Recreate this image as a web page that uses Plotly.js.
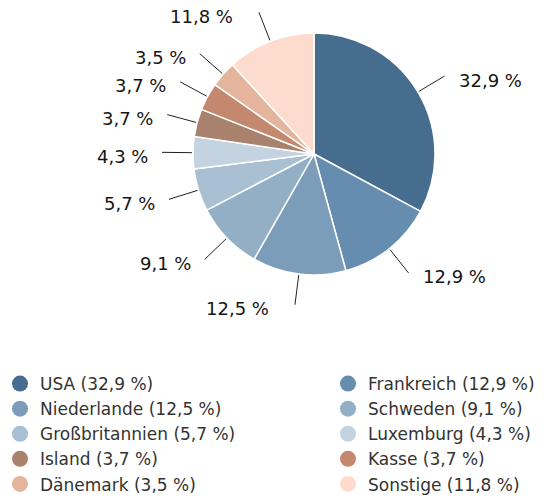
<!DOCTYPE html>
<html><head><meta charset="utf-8">
<script src="https://cdn.plot.ly/plotly-3.0.1.min.js"></script>
<style>html,body{margin:0;padding:0;background:#fff}</style>
</head><body><div id="chart" style="width:544px;height:502px"></div>
<script>
const labels = ['USA','Frankreich','Niederlande','Schweden','Großbritannien','Luxemburg','Island','Kasse','Dänemark','Sonstige'];
const values = [32.9,12.9,12.5,9.1,5.7,4.3,3.7,3.7,3.5,11.8];
const colors = ['#466d8e','#668daf','#7b9dba','#93afc6','#a9bfd2','#c3d3e0','#a8826c','#c3886d','#e4b49c','#fddccd'];

const W = 544, H = 502;
const CX = 314, CY = 154, R = 121;   // pie geometry in px
const FONT = 'DejaVu Sans, sans-serif';
const fmt = v => v.toFixed(1).replace('.', ',') + ' %';

const total = values.reduce((a, b) => a + b, 0);
const shapes = [], annotations = [];
let cum = 0;
values.forEach((v, i) => {
  const mid = (cum + v / 2) / total; cum += v;
  const th = 2 * Math.PI * mid;
  const s = Math.sin(th), c = Math.cos(th);
  const x0 = CX + (R + 1) * s, y0 = CY - (R + 1) * c;
  const x1 = CX + 152 * s, y1 = CY - 152 * c;
  shapes.push({type: 'line', xref: 'paper', yref: 'paper',
    x0: x0 / W, y0: 1 - y0 / H, x1: x1 / W, y1: 1 - y1 / H,
    line: {color: '#222', width: 1}});
  const gap = 12 + (Math.abs(c) > 0.9 ? 12 : 0);
  const tx = s >= 0 ? x1 + gap : x1 - gap;
  annotations.push({xref: 'paper', yref: 'paper', x: tx / W, y: 1 - (y1 + 4) / H,
    xanchor: s >= 0 ? 'left' : 'right', yanchor: 'middle', showarrow: false,
    text: fmt(v), font: {family: FONT, size: 18, color: '#151515'}});
});

const pie = {
  type: 'pie', labels: labels, values: values, sort: false, direction: 'clockwise',
  rotation: 0, textinfo: 'none', hoverinfo: 'label+percent', showlegend: false,
  marker: {colors: colors, line: {color: '#ffffff', width: 1.5}},
  domain: {x: [(CX - R) / W, (CX + R) / W], y: [1 - (CY + R) / H, 1 - (CY - R) / H]}
};
// legend split into two columns: even slice indices left, odd right
const legendTraces = labels.map((l, i) => ({
  type: 'scatter', mode: 'markers', x: [null], y: [null],
  name: l + ' (' + fmt(values[i]) + ')', legend: i % 2 === 0 ? 'legend' : 'legend2',
  marker: {color: colors[i], size: 17, symbol: 'circle'}, hoverinfo: 'skip'
}));

const legendBase = {orientation: 'v', y: 0, yanchor: 'bottom', xanchor: 'left',
  itemwidth: 30, traceorder: 'normal', bgcolor: 'rgba(0,0,0,0)',
  font: {family: FONT, size: 17, color: '#333'}};

const layout = {
  width: W, height: H, margin: {l: 0, r: 0, t: 0, b: 0},
  paper_bgcolor: '#fff', plot_bgcolor: '#fff',
  xaxis: {visible: false}, yaxis: {visible: false},
  showlegend: true,
  legend: Object.assign({}, legendBase, {x: 0}),
  legend2: Object.assign({}, legendBase, {x: 328 / W}),
  shapes: shapes, annotations: annotations
};
Plotly.newPlot('chart', [pie].concat(legendTraces), layout, {displayModeBar: false, staticPlot: true});
</script></body></html>
